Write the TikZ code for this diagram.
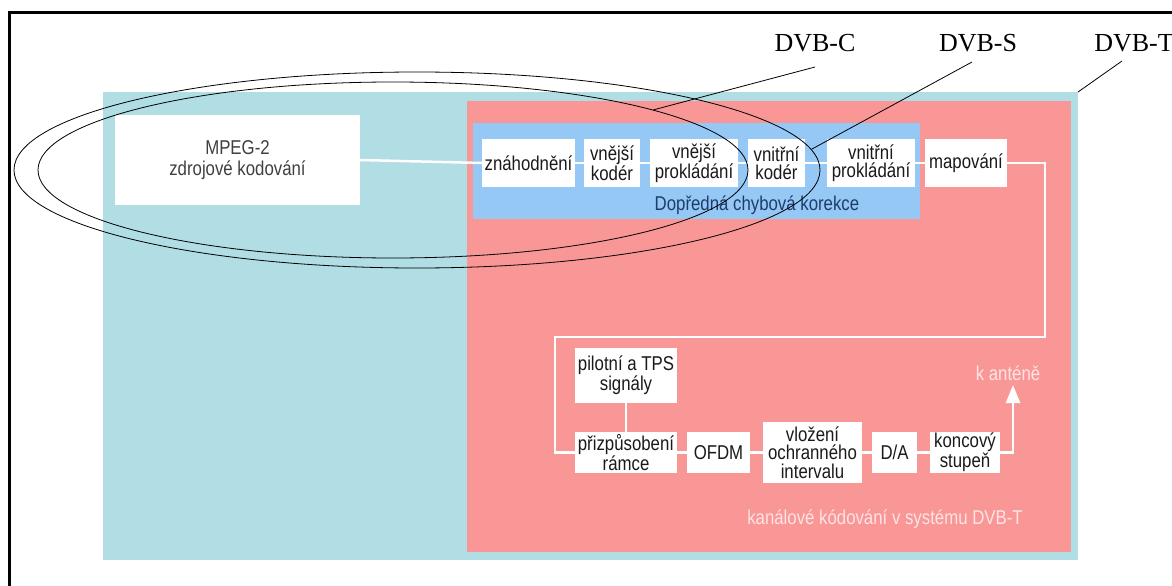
\documentclass[tikz,border=0pt]{standalone}
\usepackage{fontspec}
\setmainfont{Liberation Sans}
\newfontfamily\boxfont[FakeStretch=0.84]{Liberation Sans}
\newfontfamily\dvbfont{Liberation Serif}
\usetikzlibrary{arrows.meta,shapes.geometric}
\definecolor{cyanbg}{HTML}{B0DEE4}
\definecolor{pinkbg}{HTML}{F99696}
\definecolor{bluebg}{HTML}{96C8F5}
\definecolor{fectext}{HTML}{1E3C6E}
\definecolor{lighttext}{HTML}{FFE4E4}
\definecolor{boxtext}{HTML}{1A1A1A}
\tikzset{
  area/.style={inner sep=0pt, outer sep=0pt},
  blk/.style={fill=white, inner sep=0pt, outer sep=0pt, align=center, text=boxtext,
     font=\boxfont\fontsize{20}{18.5}\selectfont},
  wire/.style={draw=white, line width=2.5pt},
  ell/.style={draw=black, line width=0.8pt, ellipse, inner sep=0pt},
  callout/.style={draw=black, line width=0.8pt},
  dvb/.style={inner sep=0pt, font=\dvbfont\fontsize{26}{28}\selectfont},
  note/.style={inner sep=0pt, font=\boxfont\fontsize{20}{22}\selectfont}
}
\begin{document}
\begin{tikzpicture}[x=1pt,y=-1pt]
\useasboundingbox (0,0) rectangle (1172,586);
\clip (0,0) rectangle (1172,586);
\fill[white] (0,0) rectangle (1172,586);
% frame
\draw[line width=3pt] (9,600) -- (9,13) -- (1190,13);
% backgrounds
\node[area, fill=cyanbg, minimum width=975pt, minimum height=468pt] (cyanbg) at (590.5,326) {};
\node[area, fill=pinkbg, minimum width=604pt, minimum height=451pt] (pinkbg) at (769,326.5) {};
\node[area, fill=bluebg, minimum width=447pt, minimum height=96pt] (bluebg) at (696.5,171) {};
% coordinates
\coordinate (r1) at (1045,337);
\coordinate (l1) at (555,337);
\coordinate (ant) at (1013,385);
% boxes
\node[blk, minimum width=245pt, minimum height=90pt, text=black!75] (mpeg) at (237.5,160) {MPEG-2\\[2pt]zdrojové kodování};
\node[blk, minimum width=93pt, minimum height=48pt] (zn) at (528.5,163) {znáhodnění};
\node[blk, minimum width=56pt, minimum height=48pt] (vk) at (612,163) {vnější\\kodér};
\node[blk, minimum width=88pt, minimum height=48pt] (vp) at (694,163) {vnější\\prokládání};
\node[blk, minimum width=57pt, minimum height=48pt] (ik) at (776.5,163) {vnitřní\\kodér};
\node[blk, minimum width=88pt, minimum height=48pt] (ip) at (871,163) {vnitřní\\prokládání};
\node[blk, minimum width=82pt, minimum height=48pt] (map) at (966,163) {mapování};
\node[blk, minimum width=102pt, minimum height=55pt] (pil) at (626,375.5) {pilotní a TPS\\signály};
\node[blk, minimum width=102pt, minimum height=41pt] (prz) at (626,452.5) {přizpůsobení\\rámce};
\node[blk, minimum width=63pt, minimum height=41pt] (ofdm) at (718.5,452.5) {OFDM};
\node[blk, minimum width=99pt, minimum height=61pt] (vlo) at (812.5,452.5) {vložení\\ochranného\\intervalu};
\node[blk, minimum width=45pt, minimum height=41pt] (da) at (894.5,452.5) {D/A};
\node[blk, minimum width=70pt, minimum height=41pt] (kon) at (965,452.5) {koncový\\stupeň};
% wires
\draw[wire] (mpeg.east) -- (zn.west);
\draw[wire] (zn.east) -- (vk.west);
\draw[wire] (vk.east) -- (vp.west);
\draw[wire] (vp.east) -- (ik.west);
\draw[wire] (ik.east) -- (ip.west);
\draw[wire] (ip.east) -- (map.west);
\draw[wire] (map.east) -| (r1) -- (l1) |- (prz.west);
\draw[wire] (pil.south) -- (prz.north);
\draw[wire] (prz.east) -- (ofdm.west);
\draw[wire] (ofdm.east) -- (vlo.west);
\draw[wire] (vlo.east) -- (da.west);
\draw[wire] (da.east) -- (kon.west);
\draw[wire, -{Triangle[width=14pt,length=18pt]}] (kon.east) -| (ant);
% texts
\node[note, text=fectext] (fec) at (757,205) {Dopředná chybová korekce};
\node[note, text=lighttext] (kant) at (1008,373) {k anténě};
\node[note, text=lighttext] (kan) at (885,519) {kanálové kódování v systému DVB-T};
% ellipses
\node[ell, minimum width=806pt, minimum height=196pt] (outer) at (417,170) {};
\node[ell, minimum width=710pt, minimum height=176pt] (inner) at (393,170) {};
% labels and callouts
\node[dvb] (dvbC) at (815,43) {DVB-C};
\node[dvb] (dvbS) at (978,43) {DVB-S};
\node[dvb] (dvbT) at (1134,43) {DVB-T};
\coordinate (cC) at (815,67);
\coordinate (cS) at (972,62);
\coordinate (cT) at (1122,61);
\draw[callout] (cC) -- (inner.13);
\draw[callout] (cS) -- (outer.3);
\draw[callout] (cT) -- (cyanbg.north east);
\end{tikzpicture}
\end{document}
